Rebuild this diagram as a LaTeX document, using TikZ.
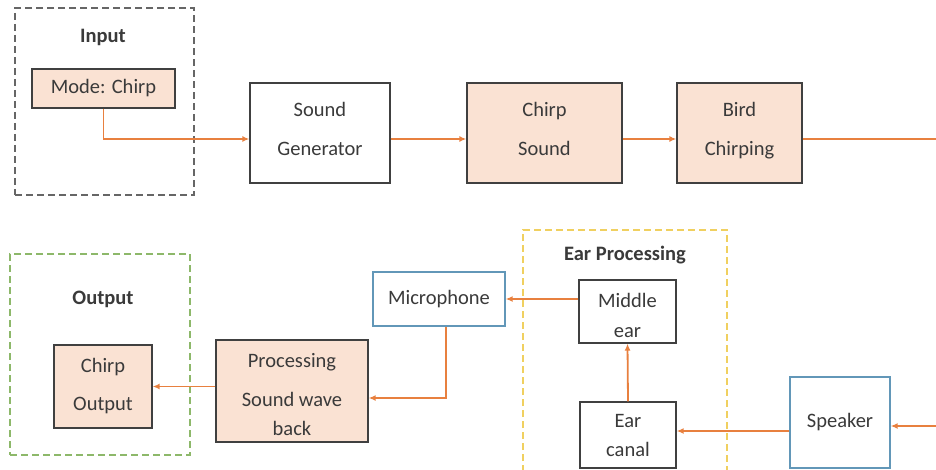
\documentclass[tikz,border=0pt]{standalone}
\usepackage{fontspec}
\setmainfont{Carlito}
\usetikzlibrary{arrows.meta,positioning}
\definecolor{csInk}{HTML}{3A3A3A}
\definecolor{csEdge}{HTML}{404040}
\definecolor{csPeach}{HTML}{FAE2D3}
\definecolor{csBlue}{HTML}{6297B8}
\definecolor{csFlow}{HTML}{E8803F}
\definecolor{csGray}{HTML}{666666}
\definecolor{csGreen}{HTML}{8DB86A}
\definecolor{csYellow}{HTML}{F0D060}
\newcommand{\csdown}[1]{\rule[-#1]{0pt}{#1}}
\newcommand{\csup}[1]{\rule{0pt}{#1}}
\tikzset{
  cs diagram/.style={font=\fontsize{20.5}{39}\selectfont, text=csInk},
  cs box/.style={draw=csEdge, fill=white, line width=1.3pt,
    align=center, inner sep=0pt},
  cs key box/.style={cs box, fill=csPeach},
  cs device box/.style={cs box, draw=csBlue},
  cs arrow/.style={-{Latex[length=7pt,width=6pt]}, draw=csFlow, line width=1.8pt},
  cs line/.style={draw=csFlow, line width=1.8pt},
  cs group/.style={dash pattern=on 7pt off 4pt, line width=1.3pt},
  cs title/.style={font=\fontsize{20.5}{24}\selectfont\bfseries}
}
\begin{document}
\begin{tikzpicture}[cs diagram, x=1pt, y=-1pt]
\useasboundingbox (0,0) rectangle (936,470);
% top row: input to bird chirping
\node[cs group, draw=csGray, minimum width=179pt, minimum height=187pt] (ingroup) at (104.5,101.5) {};
\node[cs title] (intitle) at (103,37) {Input};
\node[cs key box, minimum width=143pt, minimum height=39pt] (mode) at (103.5,88.5) {Mode: Chirp};
\node[cs box, minimum width=140pt, minimum height=100pt] (gen) at (320,133) {Sound\\Generator\csdown{9pt}};
\node[cs key box, minimum width=155pt, minimum height=100pt] (chirp) at (544.5,133) {Chirp\\Sound\csdown{9pt}};
\node[cs key box, minimum width=125pt, minimum height=100pt] (bird) at (739.5,133) {Bird\\Chirping\csdown{9pt}};
\coordinate (topline) at (0,139);
\coordinate (topexit) at (936,139);
\draw[cs arrow] (mode.south) |- (gen.west |- topline);
\draw[cs arrow] (gen.east |- topline) -- (chirp.west |- topline);
\draw[cs arrow] (chirp.east |- topline) -- (bird.west |- topline);
\draw[cs line] (bird.east |- topline) -- (topexit);
% bottom row: speaker back to output
\node[cs group, draw=csGreen, minimum width=180pt, minimum height=201pt] (outgroup) at (100,354.5) {};
\node[cs title] (outtitle) at (103,299) {Output};
\draw[cs group, draw=csYellow] (523,472) -- (523,230) -- (727,230) -- (727,472);
\node[cs title] (eartitle) at (625,255) {Ear Processing};
\node[cs key box, minimum width=98pt, minimum height=83pt, font=\fontsize{20.5}{38}\selectfont] (chirpout) at (103,386.5) {Chirp\\Output};
\node[cs key box, minimum width=152pt, minimum height=102pt] (proc) at (292,391) {\csup{20.5pt}Processing\\Sound wave\\[-10pt]back};
\node[cs device box, minimum width=132pt, minimum height=54pt] (mic) at (439,299) {Microphone};
\node[cs box, minimum width=97pt, minimum height=63pt, font=\fontsize{20.5}{30}\selectfont] (middle) at (627.5,311.5) {\csup{22.5pt}Middle\\ear};
\node[cs box, minimum width=96pt, minimum height=66pt, font=\fontsize{20.5}{29}\selectfont] (canal) at (628,435) {Ear\\canal};
\node[cs device box, minimum width=100pt, minimum height=91pt] (speaker) at (840,422.5) {Speaker};
\coordinate (inflow) at (936,426);
\coordinate (earline) at (0,431);
\coordinate (micdrop) at (446,0);
\coordinate (procline) at (0,398);
\draw[cs arrow] (inflow) -- (speaker.east |- inflow);
\draw[cs arrow] (speaker.west |- earline) -- (canal.east |- earline);
\draw[cs arrow] (canal.north) -- (middle.south);
\draw[cs arrow] (middle.west |- mic) -- (mic.east);
\draw[cs arrow] (mic.south -| micdrop) |- (proc.east |- procline);
\draw[cs arrow] (proc.west |- chirpout) -- (chirpout.east);
\end{tikzpicture}
\end{document}
